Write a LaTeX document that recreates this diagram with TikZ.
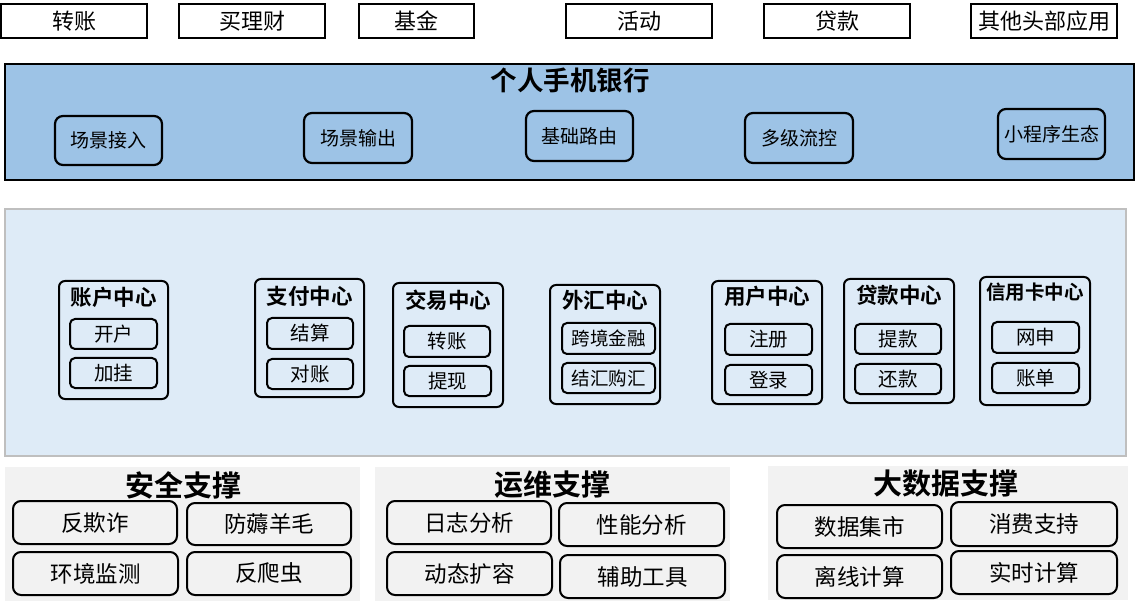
\documentclass[tikz,border=0pt]{standalone}
\usepackage{fontspec}
\setmainfont{Noto Sans CJK SC}
\newfontfamily\cjkb{Noto Sans CJK SC Bold}
\definecolor{bannerblue}{HTML}{9DC3E6}
\definecolor{midblue}{HTML}{DEEBF7}
\definecolor{midborder}{HTML}{BFBFBF}
\definecolor{supgray}{HTML}{F2F2F2}
\tikzset{
  topbox/.style={draw=black, line width=2pt, fill=white, inner sep=0pt, font=\fontsize{22}{26}\selectfont},
  rbox/.style={draw=black, line width=2.2pt, rounded corners=8pt, inner sep=0pt, font=\fontsize{19}{22}\selectfont},
  cbox/.style={draw=black, line width=2pt, rounded corners=6pt, inner sep=0pt},
  ibox/.style={draw=black, line width=2pt, rounded corners=5pt, inner sep=0pt, font=\fontsize{19.5}{22}\selectfont},
  sbox/.style={draw=black, line width=2pt, rounded corners=8pt, inner sep=0pt, font=\fontsize{22.5}{26}\selectfont},
  ctitle/.style={inner sep=0pt, font=\cjkb\fontsize{21.5}{24}\selectfont},
  stitle/.style={inner sep=0pt, font=\cjkb\fontsize{29}{32}\selectfont},
  panel/.style={inner sep=0pt}
}
\begin{document}
\begin{tikzpicture}[x=1pt,y=-1pt]
\useasboundingbox (0,0) rectangle (1141,612);
% top boxes
\node[topbox, minimum width=146, minimum height=34] (t1) at (74,21) {转账};
\node[topbox, minimum width=146, minimum height=34] (t2) at (252,21) {买理财};
\node[topbox, minimum width=115, minimum height=34] (t3) at (416.5,21) {基金};
\node[topbox, minimum width=146, minimum height=34] (t4) at (639,21) {活动};
\node[topbox, minimum width=146, minimum height=34] (t5) at (837,21) {贷款};
\node[topbox, minimum width=146, minimum height=34] (t6) at (1044,21) {其他头部应用};
% banner
\node[panel, draw=black, line width=2pt, fill=bannerblue, minimum width=1129, minimum height=116] (banner) at (569.5,122) {};
\node[inner sep=0pt, font=\cjkb\fontsize{26.5}{30}\selectfont] (btitle) at (570,80) {个人手机银行};
\node[rbox, minimum width=107, minimum height=49] (b1) at (108.5,140.5) {场景接入};
\node[rbox, minimum width=108, minimum height=50] (b2) at (358,138) {场景输出};
\node[rbox, minimum width=107, minimum height=50] (b3) at (579.5,136) {基础路由};
\node[rbox, minimum width=108, minimum height=50] (b4) at (799,138) {多级流控};
\node[rbox, minimum width=107, minimum height=50] (b5) at (1051.5,134) {小程序生态};
% middle panel
\node[panel, draw=midborder, line width=1.5pt, fill=midblue, minimum width=1121, minimum height=247] (mid) at (565.5,332.5) {};
% account center
\node[cbox, minimum width=109, minimum height=118] (c1) at (113.5,340) {};
\node[ctitle] (c1t) at (113.5,297) {账户中心};
\node[ibox, minimum width=87, minimum height=30] (c1a) at (113.5,334) {开户};
\node[ibox, minimum width=87, minimum height=30] (c1b) at (113.5,373) {加挂};
% pay center
\node[cbox, minimum width=109, minimum height=118] (c2) at (309.5,338) {};
\node[ctitle] (c2t) at (309.5,296) {支付中心};
\node[ibox, minimum width=86, minimum height=31] (c2a) at (310,333.5) {结算};
\node[ibox, minimum width=86, minimum height=30] (c2b) at (310,374) {对账};
% trade center
\node[cbox, minimum width=110, minimum height=124] (c3) at (448,345) {};
\node[ctitle] (c3t) at (448,300) {交易中心};
\node[ibox, minimum width=86, minimum height=31] (c3a) at (447,341.5) {转账};
\node[ibox, minimum width=87, minimum height=30] (c3b) at (447.5,381) {提现};
% fx center
\node[cbox, minimum width=110, minimum height=119] (c4) at (605,344.5) {};
\node[ctitle] (c4t) at (605,300) {外汇中心};
\node[ibox, minimum width=93, minimum height=31, font=\fontsize{18.5}{22}\selectfont] (c4a) at (608.5,338.5) {跨境金融};
\node[ibox, minimum width=93, minimum height=30, font=\fontsize{18.5}{22}\selectfont] (c4b) at (608.5,378) {结汇购汇};
% user center
\node[cbox, minimum width=110, minimum height=123] (c5) at (767,342.5) {};
\node[ctitle] (c5t) at (767,296) {用户中心};
\node[ibox, minimum width=87, minimum height=31] (c5a) at (768.5,339.5) {注册};
\node[ibox, minimum width=87, minimum height=30] (c5b) at (768.5,380) {登录};
% loan center
\node[cbox, minimum width=110, minimum height=124] (c6) at (899,341) {};
\node[ctitle] (c6t) at (899,295) {贷款中心};
\node[ibox, minimum width=86, minimum height=30] (c6a) at (898,339) {提款};
\node[ibox, minimum width=86, minimum height=30] (c6b) at (898,379) {还款};
% credit card center
\node[cbox, minimum width=110, minimum height=128] (c7) at (1035,341) {};
\node[ctitle, font=\cjkb\fontsize{19.5}{22}\selectfont] (c7t) at (1035,292) {信用卡中心};
\node[ibox, minimum width=87, minimum height=31] (c7a) at (1035.5,337.5) {网申};
\node[ibox, minimum width=87, minimum height=30] (c7b) at (1035.5,378) {账单};
% security support
\node[panel, fill=supgray, minimum width=355, minimum height=134] (s1) at (182.5,534) {};
\node[stitle] (s1t) at (183,485) {安全支撑};
\node[sbox, minimum width=164, minimum height=43] (s1a) at (95,522.5) {反欺诈};
\node[sbox, minimum width=164, minimum height=42] (s1b) at (269,524) {防薅羊毛};
\node[sbox, minimum width=165, minimum height=43] (s1c) at (95.5,573.5) {环境监测};
\node[sbox, minimum width=164, minimum height=43] (s1d) at (269,573.5) {反爬虫};
% ops support
\node[panel, fill=supgray, minimum width=355, minimum height=134] (s2) at (552.5,534) {};
\node[stitle] (s2t) at (552,485) {运维支撑};
\node[sbox, minimum width=164, minimum height=43] (s2a) at (469,522.5) {日志分析};
\node[sbox, minimum width=165, minimum height=43] (s2b) at (641.5,524.5) {性能分析};
\node[sbox, minimum width=165, minimum height=43] (s2c) at (469.5,573.5) {动态扩容};
\node[sbox, minimum width=165, minimum height=43] (s2d) at (642.5,576.5) {辅助工具};
% big data support
\node[panel, fill=supgray, minimum width=360, minimum height=134] (s3) at (948,533) {};
\node[stitle] (s3t) at (946,484) {大数据支撑};
\node[sbox, minimum width=165, minimum height=43] (s3a) at (859.5,526.5) {数据集市};
\node[sbox, minimum width=166, minimum height=44] (s3b) at (1034,524) {消费支持};
\node[sbox, minimum width=165, minimum height=43] (s3c) at (859.5,576.5) {离线计算};
\node[sbox, minimum width=166, minimum height=43] (s3d) at (1034,572.5) {实时计算};
\end{tikzpicture}
\end{document}
